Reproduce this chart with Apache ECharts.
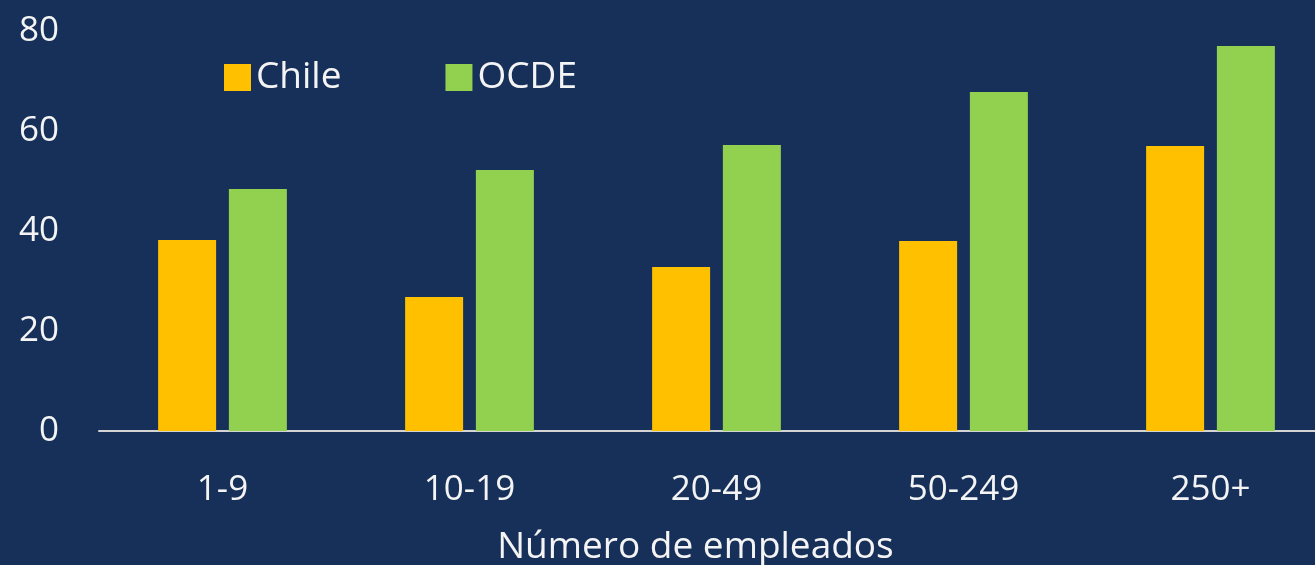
<!DOCTYPE html>
<html>
<head>
<meta charset="utf-8">
<script src="https://cdn.jsdelivr.net/npm/echarts@6/dist/echarts.min.js"></script>
<style>
  html, body { margin: 0; padding: 0; background: #17305a; }
  #chart { width: 1315px; height: 565px; }
</style>
</head>
<body>
<div id="chart"></div>
<script>
// 数据
const categories = ['1-9', '10-19', '20-49', '50-249', '250+'];
const chileValues = [38.2, 26.8, 32.8, 38, 57];
const ocdeValues = [48.4, 52.2, 57.2, 67.8, 77];
const yTicks = [0, 20, 40, 60, 80];

const FONT = '"Open Sans", "Noto Sans", sans-serif';
const TEXT = '#f4f4f4';
const WEIGHT = 500;

const chart = echarts.init(document.getElementById('chart'));
chart.setOption({
    backgroundColor: '#17305a',
    animation: false,
    textStyle: { fontFamily: FONT },
    legend: {
        left: 219,
        top: 54,
        itemWidth: 27,
        itemHeight: 27,
        itemGap: 104,
        icon: 'rect',
        textStyle: { color: TEXT, fontSize: 37, fontFamily: FONT, fontWeight: WEIGHT },
        data: ['Chile', 'OCDE']
    },
    grid: { left: 99, top: 31, width: 1235, height: 400, outerBoundsMode: 'none', containLabel: false },
    xAxis: {
        type: 'category',
        data: categories,
        axisLine: { lineStyle: { color: '#d4d4d4', width: 2 } },
        axisTick: { show: false },
        axisLabel: { color: TEXT, fontSize: 35, fontFamily: FONT, fontWeight: WEIGHT, margin: 42 },
        name: 'Número de empleados',
        nameLocation: 'middle',
        nameGap: 98,
        nameTextStyle: { color: TEXT, fontSize: 37, fontFamily: FONT, fontWeight: WEIGHT, padding: [0, 42, 0, 0] }
    },
    yAxis: {
        type: 'value',
        min: yTicks[0],
        max: yTicks[yTicks.length - 1],
        interval: 20,
        splitLine: { show: false },
        axisLine: { show: false },
        axisTick: { show: false },
        axisLabel: { color: TEXT, fontSize: 35, fontFamily: FONT, fontWeight: WEIGHT, margin: 40 }
    },
    series: [
        {
            name: 'Chile',
            type: 'bar',
            barWidth: 58,
            barGap: '22%',
            itemStyle: { color: '#ffc000' },
            data: chileValues
        },
        {
            name: 'OCDE',
            type: 'bar',
            barWidth: 58,
            itemStyle: { color: '#92d050' },
            data: ocdeValues
        }
    ]
});
</script>
</body>
</html>
